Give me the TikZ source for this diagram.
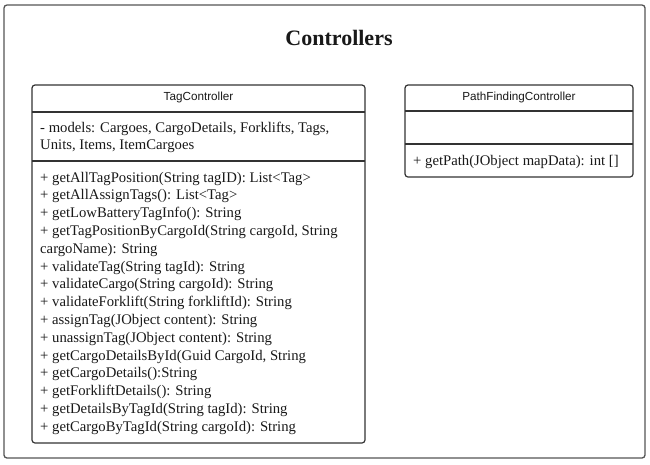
\documentclass[tikz,border=0pt]{standalone}
\usepackage{fontspec}
\setmainfont{Liberation Serif}
\newfontfamily\hdrfont{Liberation Sans}
\definecolor{linec}{HTML}{333333}
\definecolor{framec}{HTML}{555555}
\begin{document}
\begin{tikzpicture}[x=1pt,y=-1pt,
  frame/.style={draw=framec,line width=1.3pt,rounded corners=3pt},
  classbox/.style={draw=linec,line width=1.2pt,rounded corners=3pt},
  divider/.style={draw=linec,line width=1.2pt},
  hdr/.style={font=\hdrfont\fontsize{11.7}{14}\selectfont,inner sep=0pt,text=black!90},
  member/.style={font=\fontsize{14.7}{17}\selectfont,anchor=base west,inner sep=0pt,text=black!90},
  ttl/.style={font=\bfseries\fontsize{22}{26}\selectfont,inner sep=0pt,text=black!90}]
\useasboundingbox (0,0) rectangle (650,464);
\fill[white] (0,0) rectangle (650,464);
% outer frame
\draw[frame] (4,5) rectangle (645,458);
\node[ttl] (title) at (339,38) {Controllers};
% TagController
\draw[classbox] (32,85) rectangle (365,443);
\coordinate (td1l) at (32,112); \coordinate (td1r) at (365,112);
\coordinate (td2l) at (32,161); \coordinate (td2r) at (365,161);
\draw[divider] (td1l) -- (td1r);
\draw[divider] (td2l) -- (td2r);
\node[hdr] (tagname) at (198.5,97.5) {TagController};
\node[member] (ta1) at (40,132) {- models: Cargoes, CargoDetails, Forklifts, Tags,};
\node[member] (ta2) at (40,149.5) {Units, Items, ItemCargoes};
\foreach [count=\i] \t in {
 {+ getAllTagPosition(String tagID): List<Tag>},
 {+ getAllAssignTags(): List<Tag>},
 {+ getLowBatteryTagInfo(): String},
 {+ getTagPositionByCargoId(String cargoId, String},
 {cargoName): String},
 {+ validateTag(String tagId): String},
 {+ validateCargo(String cargoId): String},
 {+ validateForklift(String forkliftId): String},
 {+ assignTag(JObject content): String},
 {+ unassignTag(JObject content): String},
 {+ getCargoDetailsById(Guid CargoId, String},
 {+ getCargoDetails():String},
 {+ getForkliftDetails(): String},
 {+ getDetailsByTagId(String tagId): String},
 {+ getCargoByTagId(String cargoId): String}}
 \node[member] (tm\i) at (40,{182+(\i-1)*17.8}) {\t};
% PathFindingController
\draw[classbox] (405,85) rectangle (633,177);
\coordinate (pd1l) at (405,111); \coordinate (pd1r) at (633,111);
\coordinate (pd2l) at (405,144); \coordinate (pd2r) at (633,144);
\draw[divider] (pd1l) -- (pd1r);
\draw[divider] (pd2l) -- (pd2r);
\node[hdr] (pathname) at (519,97) {PathFindingController};
\node[member] (pm1) at (413,165) {+ getPath(JObject mapData): int []};
\end{tikzpicture}
\end{document}
